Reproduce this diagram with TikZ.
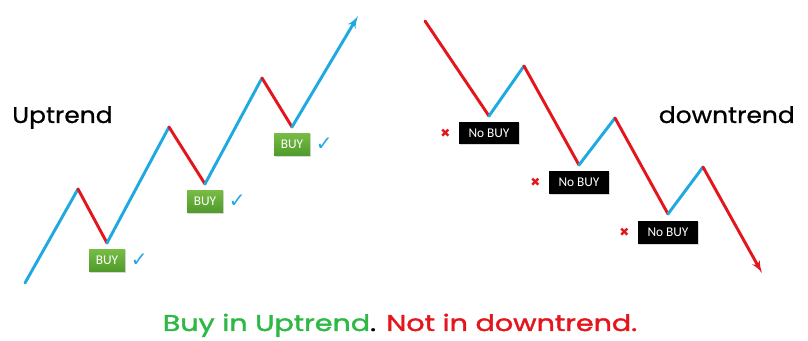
\documentclass[tikz,border=0pt]{standalone}
\usepackage{fontspec}
\setmainfont{Poppins}
\newfontfamily\headfont{Poppins}[FakeBold=0.8,FakeStretch=1.1]
\newfontfamily\rulefont{Poppins}[FakeBold=1.8,FakeStretch=1.26]
\newfontfamily\boxfont{Carlito}
\newfontfamily\symfont{DejaVu Sans}
\usepackage{xcolor}
\usepackage{tikz}
\usetikzlibrary{arrows,positioning,shadows}

\definecolor{upblue}{HTML}{1FA9E1}
\definecolor{downred}{HTML}{E3161D}
\definecolor{boxtop}{HTML}{78BC45}
\definecolor{boxbot}{HTML}{4E9A2B}
\definecolor{okgreen}{HTML}{2FB845}

\begin{document}
\begin{tikzpicture}[x=0.75pt,y=-0.75pt,>=latex',
			upleg/.style = {draw=upblue, line width=2.2pt, line cap=round},
			downleg/.style = {draw=downred, line width=2.2pt, line cap=round},
			buybox/.style = {draw=none, shape=rectangle, top color=boxtop, bottom color=boxbot,
				text=white, font=\boxfont\fontsize{10}{12}\selectfont, minimum width=27pt,
				minimum height=17pt, inner sep=0pt, drop shadow={opacity=0.3,shadow xshift=0.8pt,shadow yshift=-0.8pt}},
			nobox/.style = {draw=none, shape=rectangle, fill=black, text=white,
				font=\boxfont\fontsize{10}{12}\selectfont, minimum width=45pt,
				minimum height=17pt, inner sep=0pt, drop shadow={opacity=0.3,shadow xshift=0.8pt,shadow yshift=-0.8pt}},
			tick/.style = {text=upblue, font=\symfont\fontsize{15}{16}\selectfont, inner sep=0pt},
			cross/.style = {text=downred, font=\symfont\fontsize{9}{10}\selectfont, inner sep=0pt},
			title/.style = {font=\headfont\fontsize{17}{20}\selectfont, inner sep=0pt}
			]
			\useasboundingbox (0,0) rectangle (808,341);
			% uptrend points
			\coordinate (u0) at (25,283);
			\coordinate (u1) at (78,189);
			\coordinate (u2) at (107,243);
			\coordinate (u3) at (169,127);
			\coordinate (u4) at (205,184);
			\coordinate (u5) at (262,78);
			\coordinate (u6) at (292,127);
			\coordinate (u7) at (358,16);
			\draw[upleg] (u0) -- (u1);
			\draw[downleg] (u1) -- (u2);
			\draw[upleg] (u2) -- (u3);
			\draw[downleg] (u3) -- (u4);
			\draw[upleg] (u4) -- (u5);
			\draw[downleg] (u5) -- (u6);
			\draw[upleg,->] (u6) -- (u7);
			\node [buybox, below=4.5pt of u2] (buy1) {BUY};
			\node [buybox, below=4.5pt of u4] (buy2) {BUY};
			\node [buybox, below=4.5pt of u6] (buy3) {BUY};
			\node [tick, right=4pt of buy1] (ok1) {✓};
			\node [tick, right=4pt of buy2] (ok2) {✓};
			\node [tick, right=4pt of buy3] (ok3) {✓};
			% downtrend points
			\coordinate (d0) at (425,21);
			\coordinate (d1) at (489,116);
			\coordinate (d2) at (524,66);
			\coordinate (d3) at (579,165);
			\coordinate (d4) at (615,118);
			\coordinate (d5) at (668,214);
			\coordinate (d6) at (703,167);
			\coordinate (d7) at (762,273);
			\draw[downleg] (d0) -- (d1);
			\draw[upleg] (d1) -- (d2);
			\draw[downleg] (d2) -- (d3);
			\draw[upleg] (d3) -- (d4);
			\draw[downleg] (d4) -- (d5);
			\draw[upleg] (d5) -- (d6);
			\draw[downleg,->] (d6) -- (d7);
			\node [nobox, below=4pt of d1] (no1) {No BUY};
			\node [nobox, below=4.5pt of d3] (no2) {No BUY};
			\node [nobox, below=5pt of d5] (no3) {No BUY};
			\node [cross, left=6pt of no1] (x1) {✖};
			\node [cross, left=6pt of no2] (x2) {✖};
			\node [cross, left=6pt of no3] (x3) {✖};
			% labels
			\node [title, anchor=base west] (up) at (12,123) {Uptrend};
			\node [title, anchor=base east] (down) at (795,123) {downtrend};
			\node [font=\rulefont\fontsize{17}{20}\selectfont, inner sep=0pt, anchor=base] (rule) at (400,331)
				{\textcolor{okgreen}{Buy in Uptrend}. \textcolor{downred}{Not in downtrend.}};
		\end{tikzpicture}
\end{document}
